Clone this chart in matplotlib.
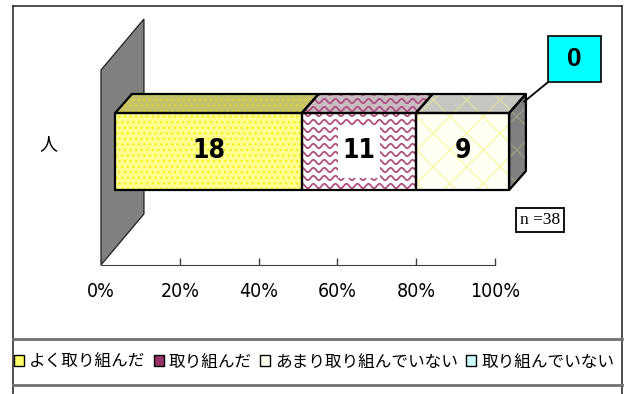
import numpy as np
import matplotlib
matplotlib.use("Agg")
import matplotlib.pyplot as plt
from matplotlib.patches import Polygon, Patch, Rectangle
from matplotlib.lines import Line2D

# ---- data ----
categories = ["よく取り組んだ", "取り組んだ", "あまり取り組んでいない", "取り組んでいない"]
counts = [18, 11, 9, 0]
legend_colors = ["#FFFF66", "#993366", "#FFFFF0", "#CCFFFF"]
tick_values = [0, 20, 40, 60, 80, 100]
tick_labels = ["0%", "20%", "40%", "60%", "80%", "100%"]
n_total = 38

W, H = 627, 394
plt.rcParams['font.family'] = ['Noto Sans CJK JP', 'DejaVu Sans']

fig = plt.figure(figsize=(W / 100, H / 100), dpi=100)

def fx(px):  # pixel -> figure fraction
    return px / W

def fy(py):
    return 1 - py / H

# frame lines of the chart area
for (x0, y0, x1, y1, c, lw) in [(13, 6, 622, 6, "#303030", 1.2),
                                (13, 6, 13, 394, "#303030", 1.2),
                                (622, 6, 622, 394, "#303030", 1.2),
                                (13, 339, 622, 339, "#707070", 2.0),
                                (13, 385, 622, 385, "#707070", 2.0)]:
    fig.add_artist(Line2D([fx(x0), fx(x1)], [fy(y0), fy(y1)], color=c, lw=lw,
                          transform=fig.transFigure))

# main axes: x in percent, y in pixel units upward from the floor
ax = fig.add_axes([fx(101), fy(265), fx(495) - fx(101), 245 / H])
ax.set_xlim(0, 100)
ax.set_ylim(0, 245)
ax.patch.set_visible(False)
for s in ["left", "top", "right"]:
    ax.spines[s].set_visible(False)
ax.spines["bottom"].set_color("#404040")
ax.set_yticks([])
ax.set_xticks(tick_values)
ax.set_xticklabels(tick_labels, family="DejaVu Sans", fontstretch="condensed", fontsize=14)
ax.tick_params(axis="x", direction="in", length=5, width=1, color="#404040", pad=12)

# 3d geometry (depth vector of the floor / wall, bar position inside it)
depth_x, depth_y = 10.9, 51.0
wall_h = 195.0
bar_off = 0.33
bar_dep = 0.39
bar_y0, bar_y1 = 75.0, 152.0
bx0 = bar_off * depth_x
bdx, bdy = bar_dep * depth_x, 19.0

# back wall
ax.add_patch(Polygon([(0, wall_h), (depth_x, wall_h + depth_y), (depth_x, depth_y), (0, 0)],
                     closed=True, facecolor="#808080", edgecolor="#202020", lw=0.9,
                     clip_on=False, zorder=1))


def face(pts, fc, hatch=None, hc=None, waves=None, z=3):
    base = Polygon(pts, closed=True, facecolor=fc, edgecolor="none", clip_on=False, zorder=z)
    ax.add_patch(base)
    if hatch:
        ax.add_patch(Polygon(pts, closed=True, facecolor="none", edgecolor=hc, lw=0,
                             hatch=hatch, clip_on=False, zorder=z + 0.1))
    if waves:
        xs_all = [p[0] for p in pts]
        ys_all = [p[1] for p in pts]
        xx = np.linspace(min(xs_all) - 1, max(xs_all) + 1, 400)
        for yy in np.arange(min(ys_all) - 4, max(ys_all) + 8, 8.0):
            ln, = ax.plot(xx, yy + 2.2 * np.sin(2 * np.pi * xx / 2.8), color=waves,
                          lw=1.3, clip_on=True, zorder=z + 0.1)
            ln.set_clip_path(base)
    ax.add_patch(Polygon(pts, closed=True, facecolor="none", edgecolor="black", lw=1.6,
                         clip_on=False, zorder=z + 0.2, joinstyle="round"))


styles = [
    dict(front=("#FFFF90", "...", "#F6EC20", None), top=("#C4C26A", "...", "#D8D440", None)),
    dict(front=("#FFFFFF", None, None, "#B0507F"), top=("#C8BCC2", None, None, "#B0507F")),
    dict(front=("#FFFFF4", "x", "#F8F8A8", None), top=("#C6C6C0", "x", "#DCDCA8", None)),
    dict(front=("#CCFFFF", None, None, None), top=("#A0C0C0", None, None, None)),
]

total = sum(counts)
cum = np.concatenate([[0], np.cumsum(counts)]) / total * 100
for i, c in enumerate(counts):
    if c == 0:
        continue
    x0, x1 = bx0 + cum[i], bx0 + cum[i + 1]
    fc, h, hc, wv = styles[i]["front"]
    face([(x0, bar_y0), (x1, bar_y0), (x1, bar_y1), (x0, bar_y1)], fc, h, hc, wv, z=3)
    fc, h, hc, wv = styles[i]["top"]
    face([(x0, bar_y1), (x1, bar_y1), (x1 + bdx, bar_y1 + bdy), (x0 + bdx, bar_y1 + bdy)],
         fc, h, hc, wv, z=3)
    xm = (x0 + x1) / 2
    ym = (bar_y0 + bar_y1) / 2
    if i == 1:  # white background behind the label on the wavy segment
        ax.add_patch(Rectangle((xm - 5.4, ym - 26.5), 10.8, 53, facecolor="white",
                               edgecolor="none", zorder=5))
    ax.text(xm, ym, str(c), ha="center", va="center", fontsize=19, fontweight="bold",
            family="DejaVu Sans", fontstretch="condensed", zorder=6)

# right side of the bar
xe = bx0 + cum[-1]
face([(xe, bar_y0), (xe, bar_y1), (xe + bdx, bar_y1 + bdy), (xe + bdx, bar_y0 + bdy)],
     "#808080", "x", "#9A9A8A", None, z=3)

# label of the zero segment: cyan box with leader line
zx0, zx1, zy0, zy1 = 113.5, 127.0, 183.0, 229.0
ax.add_patch(Rectangle((zx0, zy0), zx1 - zx0, zy1 - zy0, facecolor="#00FFFF",
                       edgecolor="black", lw=1.2, clip_on=False, zorder=5))
ax.plot([zx0, xe + bdx * 0.9], [zy0, bar_y1 + bdy * 0.6], color="black", lw=1.3,
        clip_on=False, zorder=5)
ax.text((zx0 + zx1) / 2, (zy0 + zy1) / 2, str(counts[3]), ha="center", va="center",
        fontsize=19, fontweight="bold", family=["Liberation Sans", "DejaVu Sans"], zorder=6)

# unit label and total
fig.text(fx(48), fy(144), "人", ha="center", va="center", fontsize=13)
fig.text(fx(540), fy(220), f"n ={n_total}", ha="center", va="center", fontsize=12.5,
         family=["Liberation Serif", "DejaVu Serif"],
         bbox=dict(boxstyle="square,pad=0.25", fc="white", ec="black", lw=1.3))

# legend
handles = [Patch(facecolor=col, edgecolor="black", lw=1.0) for col in legend_colors]
fig.legend(handles, categories, loc="center", bbox_to_anchor=(fx(314), fy(362)), ncol=4,
           frameon=False, fontsize=12, handlelength=0.6, handleheight=0.6,
           handletextpad=0.3, columnspacing=0.5, borderaxespad=0)

fig.savefig("out.png", dpi=100)
